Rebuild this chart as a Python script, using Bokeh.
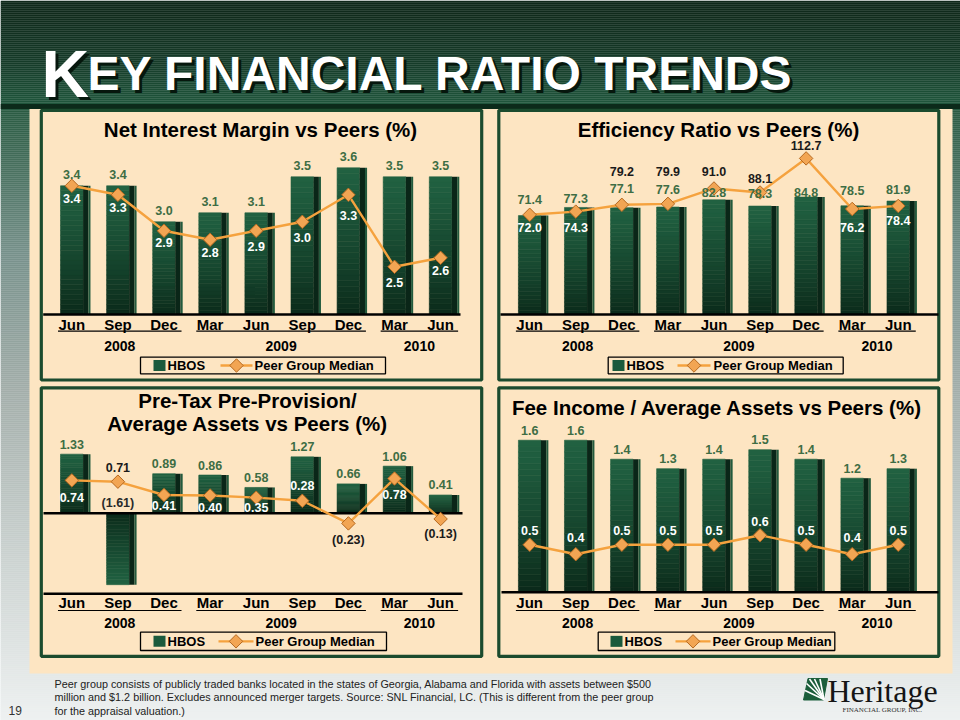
import numpy as np
from bokeh.plotting import figure
from bokeh.models import Range1d
from bokeh.embed import file_html
from bokeh.resources import INLINE
from bokeh.core.properties import value

# ---------------- data ----------------
months = ["Jun", "Sep", "Dec", "Mar", "Jun", "Sep", "Dec", "Mar", "Jun"]
years = ["2008", "2009", "2010"]
year_counts = [3, 4, 2]
series_names = ["HBOS", "Peer Group Median"]

nim_title = ["Net Interest Margin vs Peers (%)"]
nim_hbos = [3.4, 3.4, 3.0, 3.1, 3.1, 3.5, 3.6, 3.5, 3.5]
nim_peer = [3.4, 3.3, 2.9, 2.8, 2.9, 3.0, 3.3, 2.5, 2.6]

eff_title = ["Efficiency Ratio vs Peers (%)"]
eff_hbos = [71.4, 77.3, 77.1, 77.6, 82.8, 78.3, 84.8, 78.5, 81.9]
eff_peer = [72.0, 74.3, 79.2, 79.9, 91.0, 88.1, 112.7, 76.2, 78.4]

ptpp_title = ["Pre-Tax Pre-Provision/", "Average Assets vs Peers (%)"]
ptpp_hbos = [1.33, -1.61, 0.89, 0.86, 0.58, 1.27, 0.66, 1.06, 0.41]
ptpp_peer = [0.74, 0.71, 0.41, 0.40, 0.35, 0.28, -0.23, 0.78, -0.13]

fee_title = ["Fee Income / Average Assets vs Peers (%)"]
fee_hbos = [1.6, 1.6, 1.4, 1.3, 1.4, 1.5, 1.4, 1.2, 1.3]
fee_peer = [0.5, 0.4, 0.5, 0.5, 0.5, 0.6, 0.5, 0.4, 0.5]

slide_title_first = "K"
slide_title_rest = "EY FINANCIAL RATIO TRENDS"
page_number = "19"
footnote = [
    "Peer group consists of publicly traded banks located in the states of Georgia, Alabama and Florida with assets between $500",
    "million and $1.2 billion. Excludes announced merger targets. Source: SNL Financial, LC.  (This is different from the peer group",
    "for the appraisal valuation.)",
]
logo_name = "Heritage"
logo_sub = "FINANCIAL GROUP, INC."

# ---------------- style ----------------
W, H = 960, 720
FONT = value("Liberation Sans")
SERIF = value("Liberation Serif")
CREAM = "#FDE5C2"
BORDER = "#1B4B2E"
BAR_LIGHT = "#216242"
BAR_DARK = "#0A2819"
SIDE = "#0A2618"
SIDE_EDGE = "#235A3D"
GREEN_TXT = "#3E6D44"
ORANGE = "#F5A23E"
DIA_FILL = "#F2A553"
DIA_LINE = "#B5681F"
DARK_TXT = "#1A1A1A"


def hex2rgb(c):
    c = c.lstrip("#")
    return np.array([int(c[i:i + 2], 16) for i in (0, 2, 4)], dtype=float)


def lerp(c1, c2, t):
    a, b = hex2rgb(c1), hex2rgb(c2)
    r = a + (b - a) * t
    return "#%02x%02x%02x" % tuple(int(round(v)) for v in r)


def grad(stops, y):
    for (y0, c0), (y1, c1) in zip(stops[:-1], stops[1:]):
        if y0 <= y <= y1:
            return lerp(c0, c1, (y - y0) / (y1 - y0))
    return stops[-1][1]


p = figure(width=W, height=H, x_range=Range1d(0, W), y_range=Range1d(H, 0),
           x_axis_location=None, y_axis_location=None, toolbar_location=None,
           output_backend="svg", min_border=0, title=None)
p.xgrid.grid_line_color = None
p.ygrid.grid_line_color = None
p.outline_line_color = None
p.background_fill_color = "#EEF1F1"
p.border_fill_color = "#EEF1F1"

# ---------------- slide background ----------------
stops = [(0, "#0E2719"), (60, "#153A28"), (102, "#1F553B"), (112, "#2B5C43"),
         (250, "#76908A"), (390, "#A3AEAA"), (560, "#CCD3D1"), (720, "#EEF1F1")]
ys = np.arange(0, H, 2)
p.quad(left=0, right=W, top=ys, bottom=ys + 2.2,
       fill_color=[grad(stops, y + 1) for y in ys], line_color=None)
p.quad(left=0, right=W, top=103.5, bottom=108.5, fill_color="#0C2A1A", line_color=None)
p.quad(left=29, right=952, top=108.5, bottom=673, fill_color=CREAM, line_color=None)

# slide title with shadow (small caps: large K + smaller capitals)
for dx, col in ((3, "#06170D"), (0, "white")):
    p.text(x=[41 + dx], y=[73 + dx], text=[slide_title_first], text_font=FONT,
           text_font_style="bold", text_font_size="66px", text_color=col,
           text_baseline="alphabetic", text_align="left")
    p.text(x=[87 + dx], y=[73 + dx], text=[slide_title_rest], text_font=FONT,
           text_font_style="bold", text_font_size="48px", text_color=col,
           text_baseline="alphabetic", text_align="left")

# ---------------- panels ----------------
panels = [
    dict(name="nim", title=nim_title, hbos=nim_hbos, peer=nim_peer, dec=1,
         box=(40.8, 481.2, 109.8, 379.5),
         x0=71.3, step=46.1, ybase=314.0, k=90.0, vmin=1.97, base=1.97,
         title_x=260, title_y=[128.5], axis_y=[314.0], axis_x=(42.7, 460.0),
         cat_y=323.5, ul_y=330.7, year_y=345.0,
         legend=(140, 385, 356.7, 373.3, 153, 220, 252, 254),
         hbos_dy=[-11] * 9, peer_dy=[13, 13, 12, 13, 16, 16, 21, 16, 13]),
    dict(name="eff", title=eff_title, hbos=eff_hbos, peer=eff_peer, dec=1,
         box=(498.3, 938.3, 109.8, 379.5),
         x0=529.2, step=46.07, ybase=314.0, k=1.385, vmin=0.0, base=0.0,
         title_x=718, title_y=[128.5], axis_y=[314.0], axis_x=(500.0, 938.0),
         cat_y=323.5, ul_y=330.7, year_y=345.0,
         legend=(607.7, 842.7, 356.7, 373.3, 612, 677, 710, 713),
         hbos_dy=[-16, -9, -19, -18, -7, -13, -5, -15, -12],
         peer_dy=[13, 16, -33, -32, -17, -14, -13, 19, 15]),
    dict(name="ptpp", title=ptpp_title, hbos=ptpp_hbos, peer=ptpp_peer, dec=2,
         box=(40.8, 481.2, 387.3, 655.8),
         x0=71.3, step=46.1, ybase=512.7, k=44.4, vmin=0.0, base=0.0,
         title_x=247, title_y=[400.0, 422.5], axis_y=[512.7, 593.3], axis_x=(43.0, 462.0),
         cat_y=602.3, ul_y=610.0, year_y=622.3,
         legend=(140, 386, 631.7, 650, 153, 218, 253, 255),
         hbos_dy=[-10] * 9, peer_dy=[17, -14, 11, 12, 10, -15, 17, 16, 15]),
    dict(name="fee", title=fee_title, hbos=fee_hbos, peer=fee_peer, dec=1,
         box=(498.3, 938.3, 387.3, 655.8),
         x0=529.2, step=46.07, ybase=591.7, k=95.0, vmin=0.0, base=0.0,
         title_x=716.7, title_y=[406.7], axis_y=[591.7], axis_x=(501.0, 938.0),
         cat_y=602.3, ul_y=610.0, year_y=622.3,
         legend=(597.7, 834.3, 631.7, 650, 610, 675, 710, 712),
         hbos_dy=[-10] * 9, peer_dy=[-14, -17, -14, -14, -14, -14, -14, -17, -14]),
]


def fmt(v, d):
    s = f"{abs(v):.{d}f}"
    return f"({s})" if v < 0 else s


for cfg in panels:
    nm = cfg["name"]
    x0, step = cfg["x0"], cfg["step"]
    ybase, k, vmin, base = cfg["ybase"], cfg["k"], cfg["vmin"], cfg["base"]
    p.extra_x_ranges[nm] = Range1d(-x0 / step, (W - x0) / step)
    y_start = vmin - (H - ybase) / k
    p.extra_y_ranges[nm] = Range1d(y_start, y_start + H / k)
    R = dict(x_range_name=nm, y_range_name=nm)
    RX = dict(x_range_name=nm)

    def sy(v):
        return ybase - (v - vmin) * k

    hb, pe = cfg["hbos"], cfg["peer"]
    idx = list(range(len(hb)))

    # panel frame
    l, r, t, b = cfg["box"]
    p.quad(left=l, right=r, top=t, bottom=b, fill_color=None,
           line_color=BORDER, line_width=3.2)

    # title
    for ty, line in zip(cfg["title_y"], cfg["title"]):
        p.text(x=[cfg["title_x"]], y=[ty], text=[line], text_font=FONT,
               text_font_style="bold", text_font_size="20.5px", text_color="black",
               text_align="center", text_baseline="middle")

    # bars with vertical gradient (front face) and dark side face
    n = 26
    L, Rr, B, T, C = [], [], [], [], []
    for i, v in zip(idx, hb):
        for j in range(n):
            a = base + (v - base) * j / n
            c = base + (v - base) * (j + 1) / n
            L.append(i - 0.245)
            Rr.append(i + 0.245)
            B.append(min(a, c))
            T.append(max(a, c))
            C.append(lerp(BAR_DARK, BAR_LIGHT, ((j + 0.5) / n) ** 0.8))
    p.quad(left=L, right=Rr, bottom=B, top=T, fill_color=C, line_color=C,
           line_width=0.6, **R)
    p.quad(left=[i + 0.245 for i in idx], right=[i + 0.36 for i in idx],
           bottom=[min(v, base) for v in hb], top=[max(v, base) for v in hb],
           fill_color=SIDE, line_color=None, **R)
    p.quad(left=[i + 0.36 for i in idx], right=[i + 0.405 for i in idx],
           bottom=[min(v, base) for v in hb], top=[max(v, base) for v in hb],
           fill_color=SIDE_EDGE, line_color=None, **R)

    # axis lines
    for ay in cfg["axis_y"]:
        p.line(x=list(cfg["axis_x"]), y=[ay, ay], line_color="black", line_width=2.5)

    # peer line
    p.line(x=idx, y=pe, line_color=ORANGE, line_width=2.4, **R)
    p.scatter(x=idx, y=pe, marker="square", angle=np.pi / 4, size=9.5,
              fill_color=DIA_FILL, line_color=DIA_LINE, line_width=1.0, **R)

    # HBOS value labels
    hx, hy, ht, hc = [], [], [], []
    for i, v, dy in zip(idx, hb, cfg["hbos_dy"]):
        anchor = max(v, base)
        hx.append(i)
        hy.append(anchor - dy / k)
        ht.append(fmt(v, cfg["dec"]))
        hc.append(GREEN_TXT if v >= 0 else "#2A2A2A")
    p.text(x=hx, y=hy, text=ht, text_color=hc, text_font=FONT, text_font_style="bold",
           text_font_size="12.5px", text_align="center", text_baseline="middle", **R)

    # peer value labels (white when sitting on a bar)
    px_, py_, pt_, pc_ = [], [], [], []
    for i, v, h, dy in zip(idx, pe, hb, cfg["peer_dy"]):
        ly = sy(v) + dy
        top_px, bot_px = sy(max(h, base)), sy(min(h, base))
        inside = top_px + 3 < ly < bot_px - 3
        px_.append(i)
        py_.append(v - dy / k)
        pt_.append(fmt(v, cfg["dec"]))
        pc_.append("white" if inside else DARK_TXT)
    p.text(x=px_, y=py_, text=pt_, text_color=pc_, text_font=FONT, text_font_style="bold",
           text_font_size="12.5px", text_align="center", text_baseline="middle", **R)

    # category labels
    p.text(x=idx, y=[cfg["cat_y"]] * len(idx), text=months, text_color="black",
           text_font=FONT, text_font_style="bold", text_font_size="15px",
           text_align="center", text_baseline="middle", **RX)

    # year groups
    start = 0
    for yr, cnt in zip(years, year_counts):
        first, last = start, start + cnt - 1
        p.line(x=[first - 0.3, last + 0.38], y=[cfg["ul_y"]] * 2, line_color="black",
               line_width=1.2, **RX)
        p.text(x=[(first + last) / 2 + 0.04], y=[cfg["year_y"]], text=[yr],
               text_color="black", text_font=FONT, text_font_style="bold",
               text_font_size="14px", text_align="center", text_baseline="middle", **RX)
        start += cnt

    # legend
    bl, br, bt, bb, sqx, lx0, lx1, tx = cfg["legend"]
    cy = (bt + bb) / 2
    p.quad(left=bl, right=br, top=bt, bottom=bb, fill_color=CREAM,
           line_color="black", line_width=1.3)
    p.quad(left=sqx, right=sqx + 12, top=cy - 5.5, bottom=cy + 5.5,
           fill_color="#1B5A3C", line_color=None)
    p.text(x=[sqx + 14], y=[cy], text=[series_names[0]], text_font=FONT,
           text_font_style="bold", text_font_size="13px", text_color="black",
           text_baseline="middle", text_align="left")
    p.line(x=[lx0, lx1], y=[cy, cy], line_color=ORANGE, line_width=2.4)
    p.scatter(x=[(lx0 + lx1) / 2], y=[cy], marker="square", angle=np.pi / 4, size=9.5,
              fill_color=DIA_FILL, line_color=DIA_LINE, line_width=1.0)
    p.text(x=[tx], y=[cy], text=[series_names[1]], text_font=FONT,
           text_font_style="bold", text_font_size="13px", text_color="black",
           text_baseline="middle", text_align="left")

# ---------------- footer ----------------
for fy, line in zip([683, 696.5, 710], footnote):
    p.text(x=[54], y=[fy], text=[line], text_font=FONT, text_font_size="10.8px",
           text_color="#222222", text_baseline="middle", text_align="left")
p.text(x=[8], y=[710], text=[page_number], text_font=FONT, text_font_size="12px",
       text_color="#333333", text_baseline="middle", text_align="left")

# logo
p.patch(x=[803, 807.5, 827, 823], y=[699.5, 678, 678, 699.5], fill_color="#1B5E3B",
        line_color="#1B5E3B", line_width=1)
cx, cyl = 823.5, 699
rays = [(804.5, 690), (806, 683), (809, 678.5), (814, 678.5), (819.5, 678.5)]
p.segment(x0=[cx] * len(rays), y0=[cyl] * len(rays), x1=[r[0] for r in rays],
          y1=[r[1] for r in rays], line_color="white", line_width=1.6)
p.text(x=[827], y=[690], text=[logo_name], text_font=SERIF, text_font_size="32px",
       text_color="#151515", text_baseline="middle", text_align="left")
p.text(x=[842], y=[709], text=[logo_sub], text_font=SERIF, text_font_size="7px",
       text_color="#333333", text_baseline="middle", text_align="left")

open("out.html", "w").write(file_html(p, INLINE))
